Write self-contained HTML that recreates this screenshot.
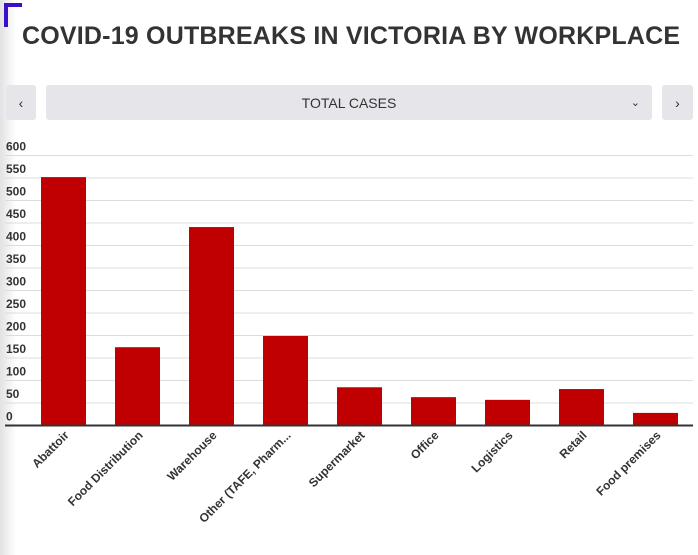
<!DOCTYPE html>
<html><head><meta charset="utf-8"><style>
body{margin:0;width:698px;height:555px;background:#fff;overflow:hidden;position:relative;font-family:"Liberation Sans",Arial,sans-serif}
.strip{position:absolute;left:0;top:0;width:16px;height:555px;background:linear-gradient(to right,#e2e2e4,#fff)}
.corner{position:absolute;left:4px;top:3px;width:18px;height:24px;border-left:4px solid #3b0fc8;border-top:4px solid #3b0fc8;box-sizing:border-box}
h1{position:absolute;left:22px;top:22px;margin:0;font-size:25px;font-weight:bold;color:#333;letter-spacing:0.2px;white-space:nowrap}
.btn{position:absolute;top:85px;height:35px;background:#e6e5ea;border-radius:3px;color:#333;font-size:14px;display:flex;align-items:center;justify-content:center}
</style></head><body>
<div class="strip"></div>
<div class="corner"></div>
<h1>COVID-19 OUTBREAKS IN VICTORIA BY WORKPLACE</h1>
<div class="btn" style="left:6px;width:30px">‹</div>
<div class="btn" style="left:46px;width:606px"><span>TOTAL CASES</span><span style="position:absolute;right:12px;font-size:11px">&#8964;</span></div>
<div class="btn" style="left:662px;width:31px">›</div>
<svg id="chart" width="698" height="555" style="position:absolute;left:0;top:0"></svg>
<script>
const categories=["Abattoir","Food Distribution","Warehouse","Other (TAFE, Pharm...","Supermarket","Office","Logistics","Retail","Food premises"];
const values=[552,174,441,199,85,63,57,81,28];
const ticks=[0,50,100,150,200,250,300,350,400,450,500,550,600];
const NS="http://www.w3.org/2000/svg";
const svg=document.getElementById('chart');
const y0=425.5,yTop=155.5,yMax=600;
const y=v=>y0-(v/yMax)*(y0-yTop);
const x=i=>63.5+74*i;
const bw=45;
function mk(t,a){const e=document.createElementNS(NS,t);for(const k in a)e.setAttribute(k,a[k]);svg.appendChild(e);return e;}
ticks.forEach(t=>{
  if(t>0){const l=mk('line',{x1:5,x2:693,y1:y(t),y2:y(t),stroke:'#dcdcdc','stroke-width':1});
  
  }
  const tx=mk('text',{x:6,y:y(t)-5,'font-size':12,'font-weight':'bold',fill:'#333','font-family':'Liberation Sans, Arial, sans-serif'});
  tx.textContent=t;
  
  
});
values.forEach((v,i)=>{
  const r=mk('rect',{x:x(i)-bw/2,y:y(v),width:bw,height:y0-y(v),fill:'#c00000'});
  
  
  const t=mk('text',{x:x(i)+6,y:436,'font-size':12,'font-weight':'bold',fill:'#333','text-anchor':'end','font-family':'Liberation Sans, Arial, sans-serif',transform:`rotate(-45 ${x(i)+6} 436)`});
  t.textContent=categories[i];
  
  
});
const ax=mk('line',{x1:5,x2:693,y1:y0,y2:y0,stroke:'#333','stroke-width':2});


</script>
</body></html>
